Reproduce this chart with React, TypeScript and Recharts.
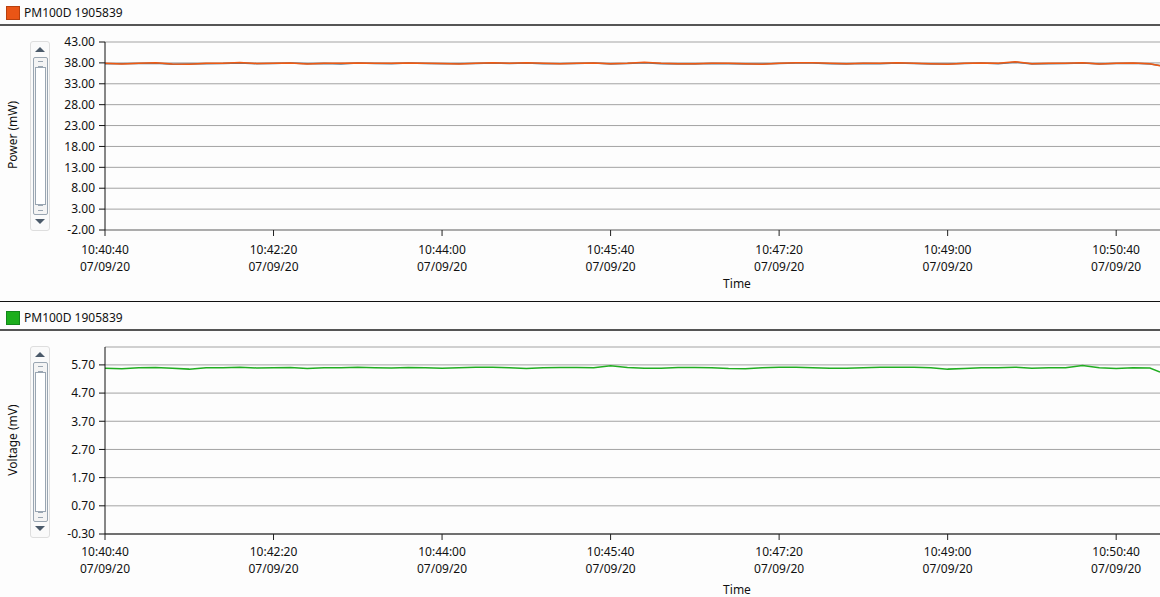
import React from "react";
import { LineChart, Line, XAxis, YAxis, CartesianGrid } from "recharts";

// seconds since 10:40:40
const times = [
  0, 10, 20, 30, 40, 50, 60, 70, 80, 90, 100, 110, 120, 130, 140, 150, 160, 170, 180, 190,
  200, 210, 220, 230, 240, 250, 260, 270, 280, 290, 300, 310, 320, 330, 340, 350, 360, 370, 380, 390,
  400, 410, 420, 430, 440, 450, 460, 470, 480, 490, 500, 510, 520, 530, 540, 550, 560, 570, 580, 590,
  600, 610, 620, 626,
];

const power = [
  37.9, 37.75, 37.9, 38.05, 37.75, 37.7, 37.9, 37.9, 38.1, 37.85, 37.9, 38.0, 37.75, 37.9, 37.9, 38.0, 37.9, 37.9, 38.0, 37.9,
  37.85, 37.75, 37.9, 38.05, 37.9, 38.05, 37.9, 37.8, 37.9, 38.0, 37.8, 37.9, 38.15, 37.9, 37.8, 37.8, 37.9, 37.9, 37.8, 37.7,
  37.9, 38.05, 38.05, 37.9, 37.8, 37.9, 37.9, 38.05, 37.9, 37.8, 37.7, 37.9, 38.0, 37.9, 38.3, 37.8, 37.9, 37.9, 38.05, 37.75,
  37.9, 38.0, 37.8, 37.3,
];

const powerTrace = [
  37.8, 37.8, 37.85, 37.9, 37.7, 37.75, 37.8, 37.85, 38.0, 37.8, 37.85, 37.95, 37.8, 37.85, 37.75, 37.95, 37.85, 37.8, 37.95, 37.85,
  37.8, 37.8, 37.85, 37.95, 37.85, 38.0, 37.8, 37.8, 37.85, 37.95, 37.75, 37.85, 38.05, 37.8, 37.75, 37.75, 37.85, 37.8, 37.75, 37.75,
  37.85, 38.0, 37.95, 37.8, 37.75, 37.85, 37.8, 37.95, 37.85, 37.75, 37.75, 37.85, 37.95, 37.8, 38.15, 37.75, 37.8, 37.85, 37.95, 37.75,
  37.85, 37.9, 37.75, 37.4,
];

const voltage = [
  5.58, 5.56, 5.6, 5.61, 5.58, 5.55, 5.6, 5.6, 5.62, 5.59, 5.6, 5.61, 5.57, 5.6, 5.6, 5.62, 5.6, 5.59, 5.61, 5.6,
  5.58, 5.6, 5.62, 5.62, 5.6, 5.57, 5.6, 5.61, 5.61, 5.6, 5.67, 5.61, 5.58, 5.58, 5.61, 5.61, 5.6, 5.57, 5.56, 5.6,
  5.62, 5.62, 5.6, 5.58, 5.58, 5.6, 5.62, 5.62, 5.62, 5.6, 5.55, 5.57, 5.6, 5.6, 5.62, 5.58, 5.6, 5.6, 5.68, 5.6,
  5.57, 5.6, 5.59, 5.45,
];

const xTicks = [0, 100, 200, 300, 400, 500, 600];
const xTickLabels = ["10:40:40", "10:42:20", "10:44:00", "10:45:40", "10:47:20", "10:49:00", "10:50:40"];
const dateLabel = "07/09/20";
const powerTicks = [-2, 3, 8, 13, 18, 23, 28, 33, 38, 43];
const voltageTicks = [-0.3, 0.7, 1.7, 2.7, 3.7, 4.7, 5.7];

const powerData = times.map((t, i) => ({ t, power: power[i], trace: powerTrace[i] }));
const voltageData = times.map((t, i) => ({ t, voltage: voltage[i] }));

const FONT = "'Noto Sans', 'DejaVu Sans', sans-serif";

const TimeTick = (props: any) => {
  const { x, y, payload, first } = props;
  const idx = xTicks.indexOf(payload.value);
  return (
    <text x={x} y={y} textAnchor="middle" fontSize={12} fill="#111" fontFamily={FONT}>
      <tspan x={x} dy={first}>{xTickLabels[idx]}</tspan>
      <tspan x={x} dy={17}>{dateLabel}</tspan>
    </text>
  );
};

function ScrollBox({ top, height }: { top: number; height: number }) {
  return (
    <div
      style={{
        position: "absolute", left: 30, top, width: 18, height,
        border: "1px solid #dedede", borderRadius: 3, background: "#fafafa",
      }}
    >
      <div style={{
        position: "absolute", left: 4, top: 5, width: 0, height: 0,
        borderLeft: "5px solid transparent", borderRight: "5px solid transparent", borderBottom: "5px solid #4b5a6a",
      }} />
      <div style={{
        position: "absolute", left: 2, top: 15, width: 13, height: height - 32,
        border: "1px solid #9aa6b2", borderRadius: 2, background: "#f4f4f4",
      }}>
        <div style={{ position: "absolute", left: 4, top: 3, width: 5, height: 4, borderTop: "1px solid #9aa6b2", borderBottom: "1px solid #9aa6b2" }} />
        <div style={{ position: "absolute", left: 1, top: 9, width: 9, height: height - 52, border: "1px solid #9aa6b2", background: "#fff" }} />
        <div style={{ position: "absolute", left: 4, bottom: 3, width: 5, height: 4, borderTop: "1px solid #9aa6b2", borderBottom: "1px solid #9aa6b2" }} />
      </div>
      <div style={{
        position: "absolute", left: 4, bottom: 6, width: 0, height: 0,
        borderLeft: "5px solid transparent", borderRight: "5px solid transparent", borderTop: "5px solid #4b5a6a",
      }} />
    </div>
  );
}

function Header({ color, border }: { color: string; border: string }) {
  return (
    <div style={{ position: "absolute", left: 0, top: 0, width: 1160, height: 25 }}>
      <div style={{ position: "absolute", left: 6, top: 6, width: 12, height: 12, background: color, border: `1px solid ${border}` }} />
      <div style={{ position: "absolute", left: 24, top: 4, fontSize: 12, color: "#111", fontFamily: FONT }}>PM100D 1905839</div>
      <div style={{ position: "absolute", left: 0, top: 24, width: 1160, height: 2, background: "#555" }} />
    </div>
  );
}

function YTitle({ text, center }: { text: string; center: number }) {
  return (
    <div style={{
      position: "absolute", left: 12, top: center, transform: "translate(-50%, -50%) rotate(-90deg)",
      fontSize: 12, color: "#111", fontFamily: FONT, whiteSpace: "nowrap",
    }}>{text}</div>
  );
}

function TimeTitle({ top }: { top: number }) {
  return (
    <div style={{ position: "absolute", left: 737, top, transform: "translateX(-50%)", fontSize: 12, color: "#111", fontFamily: FONT }}>
      Time
    </div>
  );
}

export default function App() {
  return (
    <div style={{ position: "absolute", left: 0, top: 0, width: 1160, height: 597, background: "#fdfdfd", overflow: "hidden" }}>
      <style>{`body{margin:0}`}</style>

      {/* power panel */}
      <div style={{ position: "absolute", left: 0, top: 0, width: 1160, height: 302 }}>
        <Header color="#ea5516" border="#b8400e" />
        <LineChart width={1160} height={302} data={powerData} margin={{ top: 42, right: 0, left: 0, bottom: 0 }}>
          <CartesianGrid vertical={false} stroke="#a3a3a3" />
          <XAxis
            dataKey="t" type="number" domain={[0, 626]} ticks={xTicks} tick={<TimeTick first={16} />} height={72}
            axisLine={{ stroke: "#888" }} tickLine={{ stroke: "#222" }} allowDataOverflow
          />
          <YAxis
            type="number" domain={[-2, 43]} ticks={powerTicks} interval={0} width={105} tickMargin={4}
            tickFormatter={(v: number) => v.toFixed(2)} axisLine={{ stroke: "#111" }} tickLine={{ stroke: "#111" }}
            tick={{ fontSize: 12, fill: "#111", fontFamily: FONT }}
          />
          <Line type="linear" dataKey="trace" stroke="#5f7488" strokeWidth={1.5} dot={false} isAnimationActive={false} />
          <Line type="linear" dataKey="power" stroke="#f05a12" strokeWidth={1.5} dot={false} isAnimationActive={false} />
        </LineChart>
        <YTitle text="Power (mW)" center={135} />
        <ScrollBox top={41} height={188} />
        <TimeTitle top={275} />
        <div style={{ position: "absolute", left: 0, top: 301, width: 1160, height: 1, background: "#111" }} />
      </div>

      {/* voltage panel */}
      <div style={{ position: "absolute", left: 0, top: 305, width: 1160, height: 292 }}>
        <Header color="#1cae1c" border="#12861a" />
        <LineChart width={1160} height={292} data={voltageData} margin={{ top: 42, right: 0, left: 0, bottom: 0 }}>
          <CartesianGrid vertical={false} stroke="#a3a3a3" />
          <XAxis
            dataKey="t" type="number" domain={[0, 626]} ticks={xTicks} tick={<TimeTick first={14} />} height={63}
            axisLine={{ stroke: "#111" }} tickLine={{ stroke: "#222" }} allowDataOverflow
          />
          <YAxis
            type="number" domain={[-0.3, 6.335]} ticks={voltageTicks} interval={0} width={105} tickMargin={4}
            tickFormatter={(v: number) => v.toFixed(2)} axisLine={{ stroke: "#111" }} tickLine={{ stroke: "#111" }}
            tick={{ fontSize: 12, fill: "#111", fontFamily: FONT }} allowDataOverflow
          />
          <Line type="linear" dataKey="voltage" stroke="#22ad22" strokeWidth={1.5} dot={false} isAnimationActive={false} />
        </LineChart>
        <YTitle text="Voltage (mV)" center={135} />
        <ScrollBox top={41} height={190} />
        <TimeTitle top={276} />
      </div>
    </div>
  );
}
